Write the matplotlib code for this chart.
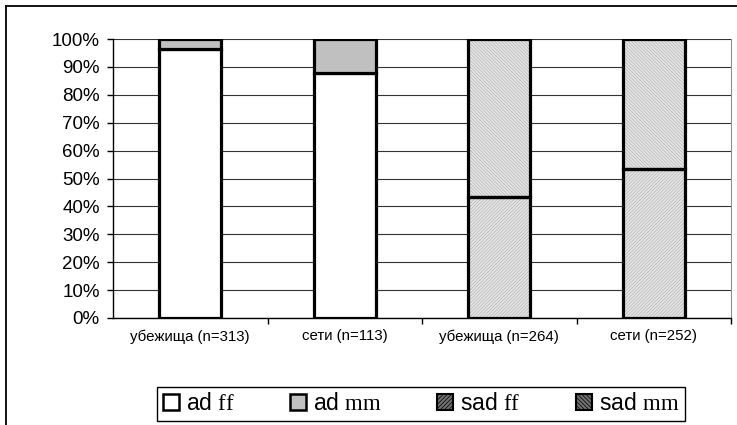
import matplotlib

matplotlib.use("Agg")
import matplotlib.pyplot as plt
from matplotlib.lines import Line2D
from matplotlib.patches import Patch
from matplotlib.ticker import FixedLocator, PercentFormatter

plt.rcParams["font.family"] = ["Liberation Sans", "DejaVu Sans"]
plt.rcParams["mathtext.fontset"] = "custom"
plt.rcParams["mathtext.rm"] = "Liberation Serif"
plt.rcParams["hatch.linewidth"] = 0.5

categories = ["убежища (n=313)", "сети (n=113)", "убежища (n=264)", "сети (n=252)"]
ad_ff = [96.4, 87.7, 0, 0]
ad_mm = [3.6, 12.3, 0, 0]
sad_ff = [0, 0, 43.5, 53.3]
sad_mm = [0, 0, 56.5, 46.7]

series = [
    ("ad $\\mathrm{ff}$", ad_ff, "white", None),
    ("ad $\\mathrm{mm}$", ad_mm, "#c0c0c0", None),
    ("sad $\\mathrm{ff}$", sad_ff, "#e6e6e6", "/" * 10),
    ("sad $\\mathrm{mm}$", sad_mm, "#e6e6e6", "\\" * 10),
]

fig = plt.figure(figsize=(7.37, 4.25), dpi=100)
ax = fig.add_axes([113 / 737, 1 - 318 / 425, 618 / 737, 279 / 425])

x = list(range(len(categories)))
bottom = [0.0] * len(categories)
handles = []
for label, vals, face, hatch in series:
    idx = [i for i, v in enumerate(vals) if v > 0]
    xs = [x[i] for i in idx]
    hs = [vals[i] for i in idx]
    bs = [bottom[i] for i in idx]
    if hatch:
        ax.bar(xs, hs, 0.4, bottom=bs, color=face, hatch=hatch,
               edgecolor="#b4b4b4", linewidth=0, zorder=2)
        ax.bar(xs, hs, 0.4, bottom=bs, fill=False,
               edgecolor="black", linewidth=2.3, zorder=3)
        handles.append(Patch(facecolor="#707070", hatch=hatch[:8],
                             edgecolor="black", linewidth=1.5, label=label))
    else:
        ax.bar(xs, hs, 0.4, bottom=bs, color=face,
               edgecolor="black", linewidth=2.3, zorder=3)
        handles.append(Patch(facecolor=face, edgecolor="black",
                             linewidth=1.8, label=label))
    for i in idx:
        bottom[i] += vals[i]

ax.set_xlim(-0.5, len(categories) - 0.5)
ax.set_ylim(0, 100)
ax.set_yticks(range(0, 101, 10))
ax.yaxis.set_major_formatter(PercentFormatter(decimals=0))
ax.set_xticks(x)
ax.set_xticklabels(categories, fontsize=10.8)
ax.xaxis.set_minor_locator(FixedLocator([0.5, 1.5, 2.5, 3.5]))
ax.tick_params(axis="x", which="major", length=0, pad=8)
ax.tick_params(axis="x", which="minor", length=4, width=1, color="black", direction="out")
ax.tick_params(axis="y", length=4.5, width=1, labelsize=13.5, pad=5, direction="out")

ax.grid(True, axis="y", color="#333333", linewidth=0.8, zorder=0)
ax.set_axisbelow(True)
ax.spines["top"].set_visible(False)
ax.spines["right"].set_color("#909090")
ax.spines["left"].set_linewidth(1.0)
ax.spines["bottom"].set_linewidth(1.0)

leg = fig.legend(
    handles=handles, loc="lower left", ncol=4, mode="expand",
    bbox_to_anchor=(157 / 737, 1 - 421 / 425, 528 / 737, 44 / 425),
    fontsize=16.5, frameon=True, fancybox=False, framealpha=1,
    edgecolor="black", handlelength=0.7, handleheight=0.7,
    handletextpad=0.3, columnspacing=0.5, borderpad=0.25, borderaxespad=0,
)
leg.get_frame().set_linewidth(1.0)

# outer chart frame (runs past the right and bottom edges of the image)
fig.add_artist(Line2D([6 / 737, 6 / 737], [0, 1 - 6 / 425], color="black", linewidth=1.3))
fig.add_artist(Line2D([6 / 737, 1], [1 - 6 / 425, 1 - 6 / 425], color="black", linewidth=1.3))

fig.savefig("out.png", dpi=100)
